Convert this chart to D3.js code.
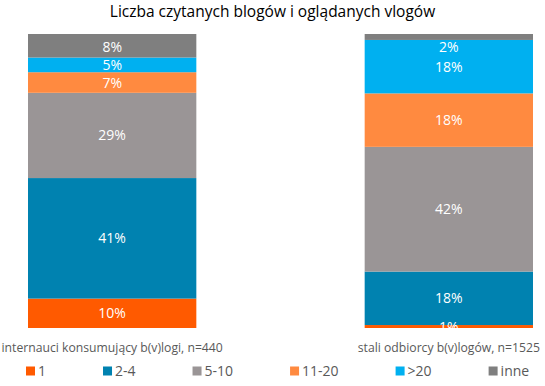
<!DOCTYPE html>
<html>
<head>
<meta charset="utf-8">
<script src="https://cdn.jsdelivr.net/npm/d3@7"></script>
<style>
	body { margin: 0; background: #fff; }
	svg text { font-family: 'Open Sans', 'Noto Sans', sans-serif; }
</style>
</head>
<body>
<div id="graphic"></div>
<script>
var categories = ['internauci konsumujący b(v)logi, n=440', 'stali odbiorcy b(v)logów, n=1525'];
var seriesNames = ['1', '2-4', '5-10', '11-20', '>20', 'inne'];
// shares in %, bottom to top, one array per bar
var sharesInternauci = [10, 41, 29, 7, 5, 8];
var sharesOdbiorcy = [1, 18, 42, 18, 18, 2];
var colours = ['#ff5a00', '#0082b0', '#9a9596', '#ff8a40', '#00b0f0', '#7f7f7f'];

var width = 545, height = 386;
var graphic = d3.select('#graphic');

function drawGraphic() {
	graphic.selectAll('*').remove();

	var rows = categories.map(function (c, i) {
		var vals = i == 0 ? sharesInternauci : sharesOdbiorcy;
		var row = { cat: c };
		seriesNames.forEach(function (s, j) { row[s] = vals[j]; });
		return row;
	});

	var stack = d3.stack().keys(seriesNames).offset(d3.stackOffsetExpand);
	var series = stack(rows);

	var x = d3.scaleBand().domain(categories).range([28, 533]).paddingInner(0.5).paddingOuter(0);
	var y = d3.scaleLinear().domain([0, 1]).range([328, 34]);

	var svg = graphic.append('svg')
		.attr('width', width)
		.attr('height', height);

	// title
	svg.append('text')
		.attr('x', width / 2)
		.attr('y', 17)
		.attr('text-anchor', 'middle')
		.attr('font-size', 15.5)
		.attr('fill', '#000')
		.text('Liczba czytanych blogów i oglądanych vlogów');

	var layers = svg.selectAll('g.layer')
		.data(series)
		.join('g')
		.attr('class', 'layer')
		.attr('fill', function (d, i) { return colours[i]; });

	layers.selectAll('rect')
		.data(function (d) { return d; })
		.join('rect')
		.attr('x', function (d) { return x(d.data.cat); })
		.attr('width', x.bandwidth())
		.attr('y', function (d) { return y(d[1]); })
		.attr('height', function (d) { return y(d[0]) - y(d[1]); });

	// data labels (pushed inside the bar near the top)
	series.forEach(function (s) {
		svg.selectAll(null)
			.data(s)
			.join('text')
			.attr('x', function (d) { return x(d.data.cat) + x.bandwidth() / 2; })
			.attr('y', function (d) {
				var mid = (y(d[0]) + y(d[1])) / 2;
				return Math.max(mid, y(1) + 13);
			})
			.attr('dy', '0.36em')
			.attr('text-anchor', 'middle')
			.attr('font-size', 14)
			.attr('fill', '#fff')
			.text(function (d) { return d.data[s.key] + '%'; });
	});

	// category labels
	svg.selectAll('text.cat')
		.data(categories)
		.join('text')
		.attr('class', 'cat')
		.attr('x', function (d) { return x(d) + x.bandwidth() / 2; })
		.attr('y', 352)
		.attr('text-anchor', 'middle')
		.attr('font-size', 12.2)
		.attr('fill', '#595959')
		.text(function (d) { return d; });

	// legend
	var legend = svg.append('g').attr('class', 'legend');
	var items = legend.selectAll('g')
		.data(seriesNames)
		.join('g');
	items.append('rect')
		.attr('width', 9)
		.attr('height', 9)
		.attr('y', -4.5)
		.attr('fill', function (d, i) { return colours[i]; });
	items.append('text')
		.attr('x', 12)
		.attr('dy', '0.36em')
		.attr('font-size', 14)
		.attr('fill', '#595959')
		.text(function (d) { return d; });

	var pos = 26;
	items.each(function () {
		var g = d3.select(this);
		g.attr('transform', 'translate(' + pos + ',371)');
		pos += 12 + g.select('text').node().getComputedTextLength() + 57;
	});
}

drawGraphic();
</script>
</body>
</html>
